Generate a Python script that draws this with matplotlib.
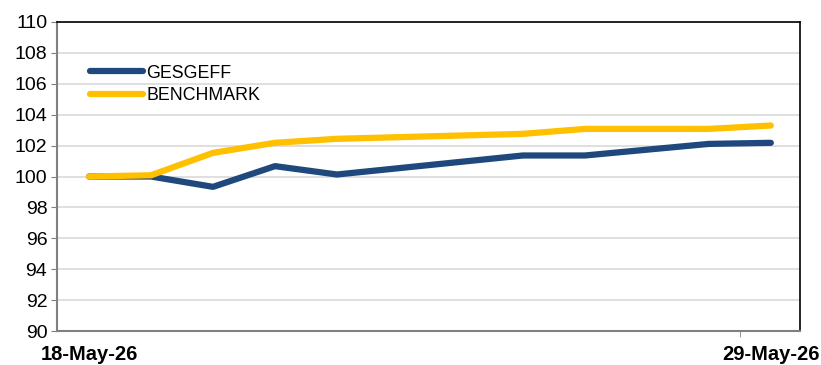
import numpy as np
import pandas as pd
import matplotlib
matplotlib.use("Agg")
import matplotlib.pyplot as plt

plt.rcParams["font.family"] = ["Liberation Sans", "DejaVu Sans"]

dates = pd.to_datetime(["2026-05-18", "2026-05-19", "2026-05-20", "2026-05-21", "2026-05-22",
                        "2026-05-25", "2026-05-26", "2026-05-28", "2026-05-29"])
gesgeff = [100.0, 100.0, 99.33, 100.67, 100.13, 101.36, 101.36, 102.11, 102.18]
benchmark = [100.0, 100.08, 101.53, 102.18, 102.44, 102.76, 103.08, 103.08, 103.3]
tick_dates = pd.to_datetime(["2026-05-18", "2026-05-29"])
tick_labels = ["18-May-26", "29-May-26"]

fig = plt.figure(figsize=(8.21, 3.65), dpi=100)
ax = fig.add_axes([57 / 821, 34 / 365, 743 / 821, 309 / 365])

ax.plot(dates, gesgeff, color="#1f497d", lw=4.5, solid_capstyle="round", label="GESGEFF")
ax.plot(dates, benchmark, color="#ffc000", lw=4.5, solid_capstyle="round", label="BENCHMARK")

ax.set_ylim(90, 110)
ax.set_yticks(np.arange(90, 111, 2))
ax.set_xlim(dates[0] - pd.Timedelta(hours=12.4), dates[-1] + pd.Timedelta(hours=11.3))
ax.set_xticks(tick_dates)
ax.set_xticklabels(tick_labels, fontweight="bold", fontsize=14.5)
ax.tick_params(axis="x", length=0, pad=10)
ax.set_xticks([dates[-1] - pd.Timedelta(hours=12)], minor=True)
ax.tick_params(axis="x", which="minor", length=4, color="#808080", direction="out")
ax.tick_params(axis="y", length=4, color="#808080", labelsize=14, pad=3)

ax.grid(axis="y", color="#d9d9d9", lw=1.2)
ax.set_axisbelow(True)
for s in ["left", "bottom"]:
    ax.spines[s].set_color("#808080")
    ax.spines[s].set_linewidth(1.5)
for s in ["top", "right"]:
    ax.spines[s].set_color("black")
    ax.spines[s].set_linewidth(1.2)

ax.legend(loc="upper left", bbox_to_anchor=(0.035, 0.885), frameon=False, fontsize=12.8,
          handlelength=3.0, handletextpad=0.15, labelspacing=0.3, borderaxespad=0)

fig.savefig("out.png", dpi=100)
